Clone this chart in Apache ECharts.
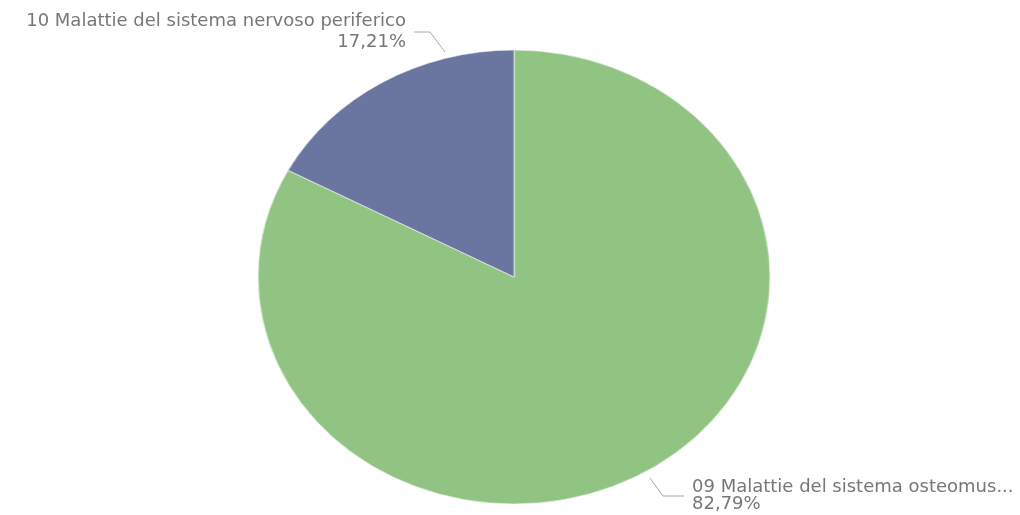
<!DOCTYPE html>
<html>
<head>
<meta charset="utf-8">
<script src="https://cdn.jsdelivr.net/npm/echarts@6/dist/echarts.min.js"></script>
<style>
  html,body{margin:0;padding:0;background:#fff;}
  #wrap{position:relative;width:1020px;height:515px;overflow:hidden;}
  #pie,#labels{position:absolute;left:0;top:0;width:1020px;height:515px;}
  /* the reference pie is an ellipse, stretch the sectors only */
  #pie{transform:scaleX(1.128);transform-origin:514px 277px;}
</style>
</head>
<body>
<div id="wrap">
  <div id="pie"></div>
  <div id="labels"></div>
</div>
<script>
// dati
var names = ['09 Malattie del sistema osteomuscolare e del tessuto connettivo', '10 Malattie del sistema nervoso periferico'];
var values = [82.79, 17.21];
var colors = ['#91C483', '#6B76A0'];

var center = [514, 277];
var radius = 227;

function pct(p){
  return p.toFixed(2).replace('.', ',') + '%';
}

var pieData = [];
for (var i = 0; i < names.length; i++) {
  pieData.push({name: names[i], value: values[i], itemStyle: {color: colors[i]}});
}

var chart1 = echarts.init(document.getElementById('pie'), null, {renderer: 'canvas'});
chart1.setOption({
  animation: false,
  series: [{
    type: 'pie',
    center: center,
    radius: radius,
    startAngle: 90,
    label: {show: false},
    labelLine: {show: false},
    itemStyle: {borderColor: '#ffffff', borderWidth: 0.6},
    emphasis: {disabled: true},
    data: pieData
  }]
});

// posizioni etichette (fisse, come nel riferimento)
var labelPos = [
  {x: 692, y: 479, align: 'left', lh: 17, w: 330, pts: [[650, 478], [663, 496], [684, 496]]},
  {x: 406, y: 11, align: 'right', lh: 21, w: 460, pts: [[445, 52], [430, 32], [414, 32]]}
];

var labelData = [];
for (var j = 0; j < names.length; j++) {
  labelData.push({
    name: names[j],
    value: values[j],
    itemStyle: {color: 'rgba(0,0,0,0)'},
    label: {lineHeight: labelPos[j].lh, width: labelPos[j].w}
  });
}

var chart2 = echarts.init(document.getElementById('labels'), null, {renderer: 'canvas'});
chart2.setOption({
  animation: false,
  series: [{
    type: 'pie',
    center: center,
    radius: radius,
    startAngle: 90,
    silent: true,
    emphasis: {disabled: true},
    label: {
      show: true,
      color: '#777777',
      fontFamily: 'DejaVu Sans',
      fontSize: 18,
      overflow: 'truncate',
      ellipsis: '...',
      formatter: function (p) { return p.name + '\n' + pct(p.percent); }
    },
    labelLine: {show: true, lineStyle: {color: '#a8a8a8', width: 1}},
    labelLayout: function (params) {
      var lp = labelPos[params.dataIndex];
      return {
        x: lp.x,
        y: lp.y,
        align: lp.align,
        verticalAlign: 'top',
        labelLinePoints: lp.pts
      };
    },
    data: labelData
  }]
});
</script>
</body>
</html>
